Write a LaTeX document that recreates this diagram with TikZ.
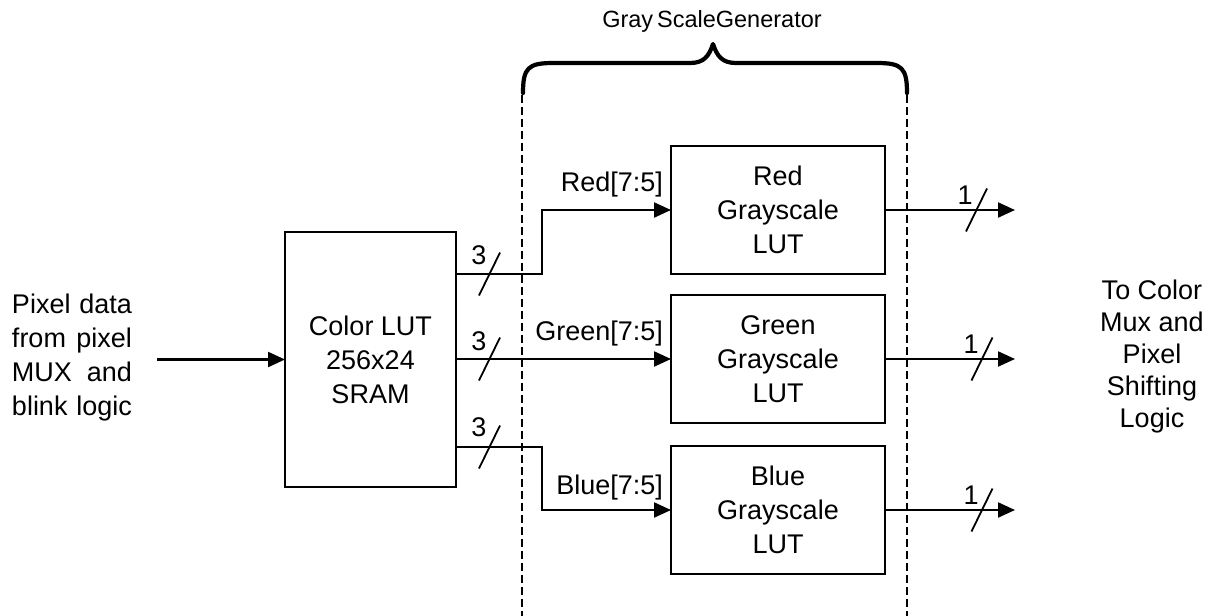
\documentclass[tikz,border=0pt]{standalone}
\usepackage{fontspec}
\setmainfont{Liberation Sans}
\usetikzlibrary{arrows.meta}
\begin{document}
\begin{tikzpicture}[x=1pt,y=-1pt,
  every node/.style={inner sep=0pt, outer sep=0pt, font=\fontsize{27}{34}\selectfont},
  block/.style={draw, line width=2.2pt, align=center},
  lutbox/.style={block, minimum width=214pt, minimum height=128pt},
  wire/.style={line width=2.2pt},
  arr/.style={wire, -{Triangle[length=17pt,width=15pt]}},
  bus/.style={line width=1.8pt},
  guide/.style={line width=2.2pt, dash pattern=on 8pt off 4pt},
  brace/.style={line width=4.2pt, line cap=round, line join=round},
  ]
\useasboundingbox (0,0) rectangle (1211,616);

% generator boundary and its brace
\node[font=\fontsize{23.5}{28}\selectfont] (title) at (712,21) {Gray\,ScaleGenerator};
\draw[guide] (522,95) -- (522,616);
\draw[guide] (907,95) -- (907,616);
\draw[brace] (523,93) .. controls (523,68) and (528,63) .. (553,63) -- (690,63)
  .. controls (704,63) and (709,56) .. (713,44)
  .. controls (717,56) and (722,63) .. (736,63) -- (877,63)
  .. controls (902,63) and (907,68) .. (907,93);

% blocks
\node[block, minimum width=171pt, minimum height=255pt] (clut) at (370.5,359.5)
  {Color LUT\\256x24\\SRAM};
\node[lutbox] (red)   at (778,210) {Red\\Grayscale\\LUT};
\node[lutbox] (green) at (778,359) {Green\\Grayscale\\LUT};
\node[lutbox] (blue)  at (778,510) {Blue\\Grayscale\\LUT};

% input side
\node[align=left] (src) at (72,358)
  {\makebox[120pt][s]{Pixel data}\\\makebox[120pt][s]{from pixel}\\
   \makebox[120pt][s]{MUX and}\\\makebox[120pt][s]{blink logic}};
\coordinate (in) at (157,359.5);
\draw[arr] (in) -- (clut.west);

% colour channels into the grayscale tables
\draw[arr] (clut.east |- 0,274) -- (542,274) |- (red.west);
\draw[arr] (clut.east |- green.west) -- (green.west);
\draw[arr] (clut.east |- 0,447) -- (542,447) |- (blue.west);

\node (rlab) [anchor=east] at (663,185) {Red[7:5]};
\node (glab) [anchor=east] at (663,334) {Green[7:5]};
\node (blab) [anchor=east] at (663,488) {Blue[7:5]};

% 3-bit bus marks
\draw[bus] (489.5,274) ++(-10.5,21.5) -- ++(21,-43);
\draw[bus] (489.5,359) ++(-10.5,21.5) -- ++(21,-43);
\draw[bus] (489.5,447) ++(-10.5,21.5) -- ++(21,-43);
\node (w1) at (479,255) {3};
\node (w2) at (479,341) {3};
\node (w3) at (479,427) {3};

% outputs
\coordinate (o1) at (1015,210);
\coordinate (o2) at (1015,359);
\coordinate (o3) at (1015,510);
\draw[arr] (red.east) -- (o1);
\draw[arr] (green.east) -- (o2);
\draw[arr] (blue.east) -- (o3);

\draw[bus] (976.5,210) ++(-10.5,21.5) -- ++(21,-43);
\draw[bus] (982,359) ++(-10.5,21.5) -- ++(21,-43);
\draw[bus] (982,510) ++(-10.5,21.5) -- ++(21,-43);
\node (v1) at (965,195) {1};
\node (v2) at (971,344) {1};
\node (v3) at (971,495) {1};

\node[align=center, font=\fontsize{27}{32}\selectfont] (dst) at (1152,357)
  {To Color\\Mux and\\Pixel\\Shifting\\Logic};
\end{tikzpicture}
\end{document}
